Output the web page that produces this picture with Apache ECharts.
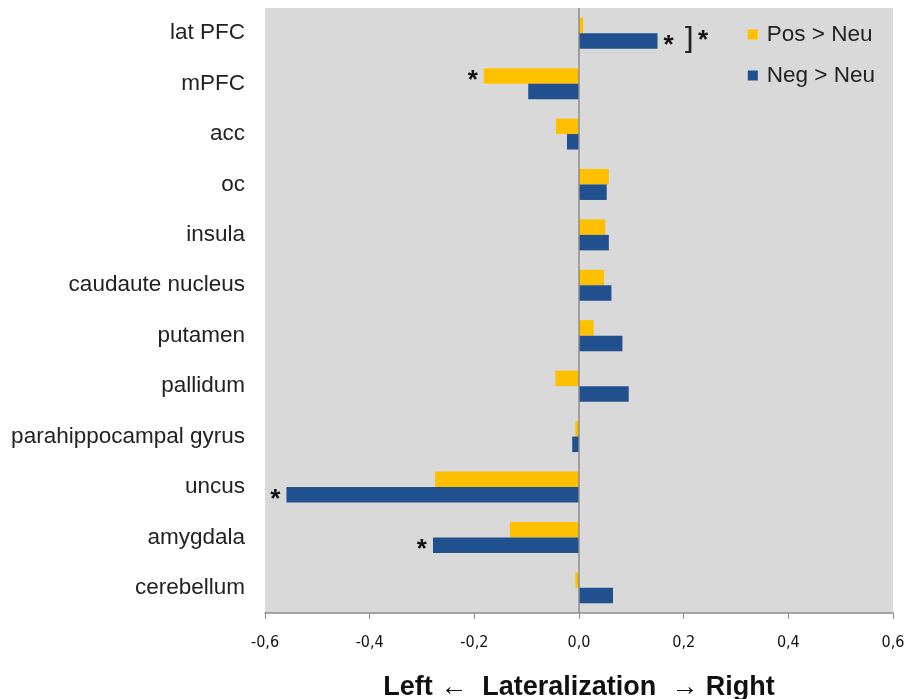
<!DOCTYPE html>
<html>
<head>
<meta charset="utf-8">
<script src="https://cdn.jsdelivr.net/npm/echarts@6/dist/echarts.min.js"></script>
<style>html,body{margin:0;padding:0;background:#fff;}#c{width:908px;height:699px;}</style>
</head>
<body>
<div id="c"></div>
<script>
const categories = ['lat PFC','mPFC','acc','oc','insula','caudaute nucleus','putamen','pallidum','parahippocampal gyrus','uncus','amygdala','cerebellum'];
const posNeu = [0.008,-0.182,-0.044,0.057,0.050,0.048,0.028,-0.045,-0.007,-0.275,-0.132,-0.007];
const negNeu = [0.150,-0.097,-0.023,0.053,0.057,0.062,0.083,0.095,-0.013,-0.559,-0.279,0.065];
const xTicks = [-0.6,-0.4,-0.2,0.0,0.2,0.4,0.6];
const starsPos = ['mPFC'];
const starsNeg = ['lat PFC','uncus','amygdala'];
const seriesNames = ['Pos > Neu','Neg > Neu'];

function withStars(vals, starred) {
  return vals.map((v, i) => {
    if (starred.indexOf(categories[i]) < 0) return v;
    return {
      value: v,
      label: {
        show: true, formatter: '*', position: v < 0 ? 'left' : 'right',
        distance: 6, fontSize: 26, fontWeight: 'bold', color: '#111',
        fontFamily: 'Liberation Sans', offset: [0, 5]
      }
    };
  });
}

const chart = echarts.init(document.getElementById('c'));
chart.setOption({
  animation: false,
  backgroundColor: '#fff',
  grid: { left: 265, right: 15, top: 8, bottom: 86, show: true, backgroundColor: '#D9D9D9', borderWidth: 0,
          containLabel: false, outerBoundsMode: 'none' },
  legend: {
    orient: 'vertical', right: 28, top: 18, itemWidth: 10, itemHeight: 10, itemGap: 18,
    icon: 'rect', data: seriesNames,
    textStyle: { fontSize: 22.5, color: '#222', fontFamily: 'Liberation Sans', padding: [0,0,0,4] }
  },
  xAxis: {
    type: 'value', min: xTicks[0], max: xTicks[xTicks.length-1], interval: 0.2,
    axisLine: { show: true, onZero: false, lineStyle: { color: '#8c8c8c', width: 1.5 } },
    axisTick: { show: true, length: 6, lineStyle: { color: '#8c8c8c' } },
    splitLine: { show: false },
    axisLabel: { formatter: v => v.toFixed(1).replace('.', ','), fontSize: 16, color: '#111', margin: 22,
      fontFamily: 'Liberation Sans Narrow, DejaVu Sans Condensed, sans-serif' },
    name: 'Left \u2190  Lateralization  \u2192 Right', nameLocation: 'middle', nameGap: 61,
    nameTextStyle: { fontSize: 27, fontWeight: 'bold', color: '#111', fontFamily: 'Liberation Sans' }
  },
  yAxis: {
    type: 'category', data: categories, inverse: true,
    axisLine: { show: false }, axisTick: { show: false },
    axisLabel: { fontSize: 22.5, color: '#222', margin: 20, fontFamily: 'Liberation Sans' }
  },
  series: [
    {
      name: seriesNames[0], type: 'bar', data: withStars(posNeu, starsPos),
      barWidth: 15.5, barGap: '0%', itemStyle: { color: '#FFC000' },
      markLine: { silent: true, symbol: 'none', label: { show: false },
        lineStyle: { color: '#8c8c8c', width: 1.5, type: 'solid' }, data: [{ xAxis: 0 }] }
    },
    {
      name: seriesNames[1], type: 'bar', data: withStars(negNeu, starsNeg),
      barWidth: 15.5, barGap: '0%', itemStyle: { color: '#21508F' },
      markPoint: {
        symbol: 'rect', symbolSize: 0,
        data: [{ coord: [0.222, 'lat PFC'] }],
        label: { show: true, position: 'inside', formatter: '{b|]}{s|*}',
          rich: { b: { fontSize: 30, color: '#222', fontFamily: 'DejaVu Sans', padding: [0,4,0,0] },
                  s: { fontSize: 26, fontWeight: 'bold', color: '#111', fontFamily: 'Liberation Sans', padding: [0,0,0,0] } } }
      }
    }
  ]
});
</script>
</body>
</html>
